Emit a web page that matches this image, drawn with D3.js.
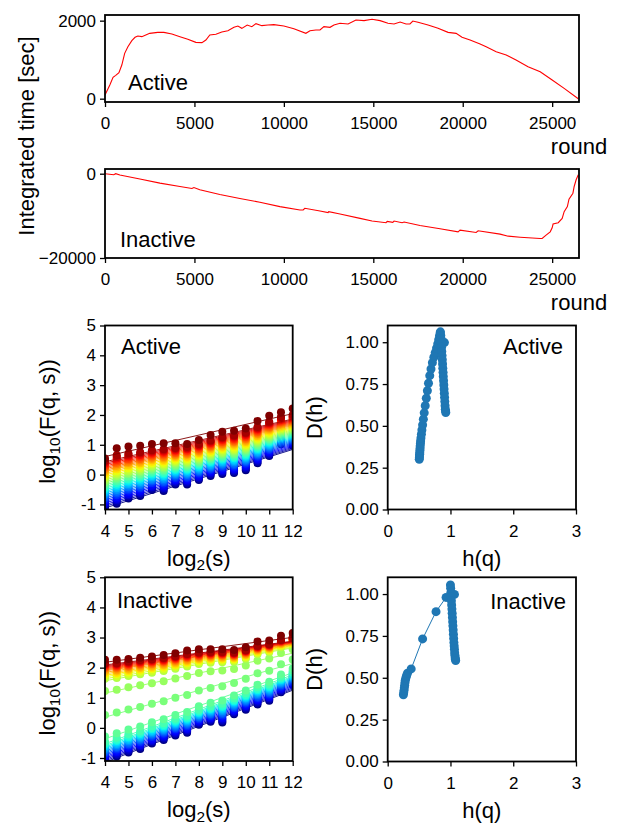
<!DOCTYPE html>
<html><head><meta charset="utf-8">
<script src="https://cdn.jsdelivr.net/npm/d3@7"></script>
<style>
body{margin:0;background:#fff}
text{font-family:"Liberation Sans",Arial,Helvetica,sans-serif;fill:#000}
</style></head>
<body><svg id="c" width="624" height="829"></svg>
<script>
// ---------------- DATA ----------------
const activeRounds = [0,270,450,600,780,940,1100,1280,1500,1680,1835,2060,2280,2500,2950,3290,3740,4190,4630,5080,5420,5640,5860,6200,6530,6870,7210,7430,7650,7950,8210,8440,8770,9110,9440,10000,10560,11230,11460,11790,12020,12240,12580,12800,13140,13590,14030,14480,14930,15380,15820,16160,16500,16830,17050,17210,17500,18060,18620,19180,19630,19960,20410,20970,21310,21870,22430,22980,23650,24330,25000,25670,26460];
const activeTime = [94,350,547,598,667,863,1162,1333,1487,1573,1607,1590,1632,1675,1700,1700,1658,1590,1521,1444,1436,1504,1632,1650,1709,1743,1829,1863,1803,1889,1846,1923,1872,1889,1897,1863,1795,1675,1743,1760,1760,1846,1829,1889,1932,1915,2017,2000,2034,2000,1932,1915,1966,1915,1915,1991,1957,1889,1803,1700,1675,1573,1504,1402,1333,1205,1120,991,821,692,479,265,0];
const inactiveRounds = [0,490,600,830,1950,3070,4190,4860,4970,5300,6420,7540,8660,9780,10900,11080,11170,12020,12470,12510,13140,14260,14930,15710,15780,16090,16160,16610,16720,17610,18730,19740,19850,20750,20860,22090,22540,23210,24330,24440,24660,24890,25000,25050,25340,25560,25670,25850,25940,26160,26230,26340,26460];
const inactiveTime = [0,-240,0,-320,-1275,-2230,-3030,-3500,-3270,-3825,-4940,-5900,-6770,-7810,-8600,-8600,-8200,-8845,-9240,-9000,-9560,-10600,-11235,-11630,-11310,-11550,-11235,-11630,-11470,-12270,-13070,-13785,-13385,-13940,-13545,-14340,-14820,-15060,-15380,-15380,-14580,-13785,-12830,-11950,-11630,-10600,-9000,-7810,-6055,-4620,-3030,-1435,-240];
const roundTicks = [0,5000,10000,15000,20000,25000];
const activeTimeTicks = [0,2000];
const inactiveTimeTicks = [-20000,0];

// log2(s) scales and log10 F(q,s) envelopes (bottom curve, top of lower band, below-top curve, top curve)
const scales = [4,4.5,5,5.5,6,6.5,7,7.5,8,8.5,9,9.5,10,10.5,11,11.5,12];
const activeLow  = [-1.1,-0.98,-0.8,-0.72,-0.52,-0.55,-0.33,-0.33,-0.18,-0.05,0.02,0.05,0.15,0.38,0.62,1.02,0.97];
const activeHigh = [0.5,0.68,0.74,0.78,0.84,0.88,0.92,0.95,1.05,1.17,1.28,1.34,1.43,1.62,1.8,1.95,2.02];
const activeMax  = [0.54,0.88,0.94,0.97,1.03,1.05,1.05,1.03,1.16,1.33,1.44,1.47,1.55,1.8,1.97,2.09,2.22];
const activeLevels = [0,0.035,0.07,0.105,0.14,0.175,0.21,0.245,0.28,0.315,0.35,0.385,0.42,0.455,0.49,0.525,0.56,0.595,0.63,0.665,0.7,0.735,0.77,0.8,0.83,0.86,0.89,0.92,0.95,0.98,1.0];
const inactiveLow  = [-1.1,-0.95,-0.82,-0.7,-0.52,-0.4,-0.25,-0.16,0.1,0.2,0.18,0.45,0.6,0.78,0.9,1.18,1.42];
const inactiveMid  = [-0.45,-0.33,-0.2,-0.1,0.05,0.15,0.3,0.4,0.6,0.72,0.8,0.98,1.15,1.35,1.45,1.7,1.9];
const inactiveHigh = [2.15,2.15,2.2,2.25,2.28,2.32,2.38,2.45,2.5,2.52,2.52,2.5,2.58,2.72,2.78,2.92,3.0];
const inactiveMax  = [2.26,2.26,2.29,2.33,2.37,2.42,2.48,2.57,2.61,2.61,2.61,2.59,2.68,2.87,2.9,3.06,3.15];
const inactiveLevels = [0,0.015,0.03,0.045,0.06,0.075,0.09,0.105,0.12,0.135,0.15,0.165,0.18,0.2,0.25,0.47,0.715,0.84,0.86,0.88,0.895,0.91,0.925,0.94,0.95,0.96,0.97,0.98,0.99,1.0,1.0];
const log2Ticks = [4,5,6,7,8,9,10,11,12];
const log10Ticks = [-1,0,1,2,3,4,5];

// singularity spectra
const hActive = [0.503,0.505,0.507,0.509,0.511,0.513,0.515,0.518,0.521,0.525,0.53,0.537,0.545,0.556,0.568,0.582,0.598,0.615,0.632,0.65,0.67,0.69,0.712,0.735,0.757,0.778,0.797,0.812,0.825,0.835,0.84,0.904,0.846,0.85,0.854,0.858,0.862,0.866,0.87,0.874,0.878,0.882,0.886,0.89,0.894,0.898,0.902,0.906,0.91,0.914,0.918,0.922,0.925];
const dActive = [0.3,0.31,0.32,0.33,0.34,0.352,0.365,0.38,0.395,0.41,0.428,0.45,0.475,0.505,0.54,0.578,0.62,0.665,0.71,0.755,0.8,0.84,0.878,0.91,0.938,0.965,0.99,1.015,1.038,1.055,1.062,0.998,1.04,1.02,0.995,0.97,0.945,0.92,0.895,0.87,0.845,0.82,0.795,0.77,0.745,0.72,0.695,0.67,0.645,0.62,0.6,0.59,0.58];
const hInactive = [0.25,0.255,0.26,0.265,0.27,0.275,0.28,0.29,0.3,0.315,0.374,0.556,0.77,0.93,1.0,1.064,1.003,1.007,1.011,1.015,1.019,1.023,1.027,1.031,1.035,1.039,1.043,1.047,1.051,1.055,1.059,1.063,1.067,1.071,1.075,1.079,1.083];
const dInactive = [0.398,0.41,0.425,0.44,0.455,0.47,0.485,0.5,0.512,0.527,0.553,0.732,0.895,0.98,1.054,0.998,1.035,1.01,0.985,0.96,0.935,0.91,0.885,0.86,0.835,0.81,0.785,0.76,0.735,0.71,0.69,0.67,0.65,0.635,0.62,0.61,0.603];
const hTicks = [0,1,2,3];
const dTicks = [0,0.25,0.5,0.75,1.0];

// ---------------- DRAWING ----------------
const svg = d3.select('#c');
const TICK = 17, LAB = 22;
const jet = (() => {
  const r = d3.scaleLinear().domain([0,0.35,0.66,0.89,1]).range([0,0,1,1,0.5]).clamp(true);
  const g = d3.scaleLinear().domain([0,0.125,0.375,0.64,0.91,1]).range([0,0,1,1,0,0]).clamp(true);
  const b = d3.scaleLinear().domain([0,0.11,0.34,0.65,1]).range([0.5,1,1,0,0]).clamp(true);
  return t => d3.rgb(r(t)*255, g(t)*255, b(t)*255).toString();
})();

let clipId = 0;
function makeAxes(box, xs, ys, xt, yt, xf, yf) {
  const g = svg.append('g');
  const id = 'clip' + (clipId++);
  svg.append('clipPath').attr('id', id).append('rect')
    .attr('x', box.x0).attr('y', box.y0).attr('width', box.x1-box.x0).attr('height', box.y1-box.y0);
  const plot = g.append('g').attr('clip-path', `url(#${id})`);
  const ax = g.append('g').attr('transform', `translate(0,${box.y1})`)
    .call(d3.axisBottom(xs).tickValues(xt).tickFormat(xf).tickSize(5).tickPadding(10).tickSizeOuter(0));
  const ay = g.append('g').attr('transform', `translate(${box.x0},0)`)
    .call(d3.axisLeft(ys).tickValues(yt).tickFormat(yf).tickSize(5).tickPadding(4).tickSizeOuter(0));
  [ax, ay].forEach(a => {
    a.select('.domain').remove();
    a.selectAll('line').attr('stroke', '#000').attr('stroke-width', 1.3);
    a.selectAll('text').style('font-size', TICK + 'px')
      .style('font-family', '"Liberation Sans",Arial,Helvetica,sans-serif').attr('fill', '#000');
  });
  g.append('rect').attr('x', box.x0).attr('y', box.y0).attr('width', box.x1-box.x0).attr('height', box.y1-box.y0)
    .attr('fill', 'none').attr('stroke', '#000').attr('stroke-width', 1.8);
  return {g, plot};
}
function label(x, y, txt, opts = {}) {
  const t = svg.append('text').attr('x', x).attr('y', y).style('font-size', (opts.size || LAB) + 'px')
    .attr('text-anchor', opts.anchor || 'start');
  if (opts.rotate) t.attr('transform', `rotate(-90,${x},${y})`);
  if (opts.parts) {
    opts.parts.forEach(p => {
      const s = t.append('tspan').text(p.t);
      if (p.sub) s.style('font-size', (LAB*0.7) + 'px').attr('dy', '0.3em');
      if (p.back) s.attr('dy', '-0.21em');
    });
  } else t.text(txt);
  return t;
}

// ---- time series panels ----
function timePanel(box, rounds, vals, yDom, yTicks, name, nameX, nameY) {
  const xs = d3.scaleLinear().domain([0, 26500]).range([box.x0, box.x1]);
  const ys = d3.scaleLinear().domain(yDom).range([box.y1, box.y0]);
  const {plot} = makeAxes(box, xs, ys, roundTicks, yTicks, d3.format('d'), d3.format('d'));
  plot.append('path').datum(d3.zip(rounds, vals))
    .attr('d', d3.line().x(d => xs(d[0])).y(d => ys(d[1])))
    .attr('fill', 'none').attr('stroke', '#ff0000').attr('stroke-width', 1.1);
  label(nameX, nameY, name);
  label(box.x1, box.y1 + 52, 'round', {anchor: 'middle'});
}
timePanel({x0:105, x1:579, y0:15, y1:102}, activeRounds, activeTime, [-85, 2145], activeTimeTicks, 'Active', 128, 90);
timePanel({x0:105, x1:579, y0:169, y1:258}, inactiveRounds, inactiveTime, [-20000, 1116], inactiveTimeTicks, 'Inactive', 120, 247);
label(34, 136, 'Integrated time [sec]', {anchor: 'middle', rotate: true});

// ---- fluctuation function panels ----
function fPanel(box, yDom, low, mid, high, max, levels, name, nameX, nameY) {
  const xs = d3.scaleLinear().domain([4, 12]).range([box.x0, box.x1]);
  const ys = d3.scaleLinear().domain(yDom).range([box.y1, box.y0]);
  const {plot} = makeAxes(box, xs, ys, log2Ticks, log10Ticks, d => String(d), d => (d < 0 ? '-' + Math.abs(d) : String(d)));
  const n = levels.length;
  const MIDLV = 0.2;
  const valueAt = (lv, k) => {
    if (!mid) return low[k] + lv * (high[k] - low[k]);
    return lv <= MIDLV ? low[k] + (lv / MIDLV) * (mid[k] - low[k])
                       : mid[k] + ((lv - MIDLV) / (1 - MIDLV)) * (high[k] - mid[k]);
  };
  levels.forEach((lv, i) => {
    const vals = (i === n - 1) ? max : scales.map((s, k) => valueAt(lv, k));
    const col = jet(i / (n - 1));
    const mx = d3.mean(scales), my = d3.mean(vals);
    const slope = d3.sum(scales, (s, k) => (s - mx) * (vals[k] - my)) / d3.sum(scales, s => (s - mx) * (s - mx));
    const icpt = my - slope * mx;
    plot.append('g').selectAll('circle').data(scales).join('circle')
      .attr('cx', s => xs(s)).attr('cy', (s, k) => ys(vals[k])).attr('r', 4).attr('fill', col);
    plot.append('line').attr('x1', xs(4)).attr('x2', xs(12)).attr('y1', ys(icpt + slope * 4)).attr('y2', ys(icpt + slope * 12))
      .attr('stroke', col).attr('stroke-width', 0.9);
  });
  label(nameX, nameY, name);
  const cx = (box.x0 + box.x1) / 2;
  label(cx, box.y1 + 56, null, {anchor: 'middle', parts: [{t: 'log'}, {t: '2', sub: true}, {t: '(s)', back: true}]});
  const ly = (box.y0 + box.y1) / 2 + 4;
  label(55, ly, null, {anchor: 'middle', rotate: true, parts: [{t: 'log'}, {t: '10', sub: true}, {t: '(F(q, s))', back: true}]});
}
fPanel({x0:105, x1:292.7, y0:325.5, y1:509.5}, [-1.17, 5], activeLow, null, activeHigh, activeMax, activeLevels, 'Active', 121, 354);
fPanel({x0:105, x1:292.7, y0:577.3, y1:761}, [-1.1, 5], inactiveLow, inactiveMid, inactiveHigh, inactiveMax, inactiveLevels, 'Inactive', 117, 608);

// ---- singularity spectrum panels ----
function dPanel(box, hv, dv, name, nameEnd, nameY) {
  const xs = d3.scaleLinear().domain([0, 3]).range([box.x0, box.x1]);
  const ys = d3.scaleLinear().domain([0, 1.1]).range([box.y1, box.y0]);
  const {plot} = makeAxes(box, xs, ys, hTicks, dTicks, d => String(d), d3.format('.2f'));
  const pts = d3.zip(hv, dv);
  plot.append('path').datum(pts).attr('d', d3.line().x(d => xs(d[0])).y(d => ys(d[1])))
    .attr('fill', 'none').attr('stroke', '#1f77b4').attr('stroke-width', 1);
  plot.append('g').selectAll('circle').data(pts).join('circle')
    .attr('cx', d => xs(d[0])).attr('cy', d => ys(d[1])).attr('r', 4.5).attr('fill', '#1f77b4');
  label(nameEnd, nameY, name, {anchor: 'end'});
  label((box.x0 + box.x1) / 2, box.y1 + 56, 'h(q)', {anchor: 'middle'});
  label(322, (box.y0 + box.y1) / 2, 'D(h)', {anchor: 'middle', rotate: true});
}
dPanel({x0:387.7, x1:576, y0:325.5, y1:509.5}, hActive, dActive, 'Active', 563, 354);
dPanel({x0:387.7, x1:576, y0:577.3, y1:761.5}, hInactive, dInactive, 'Inactive', 566, 609);
</script>
</body></html>
